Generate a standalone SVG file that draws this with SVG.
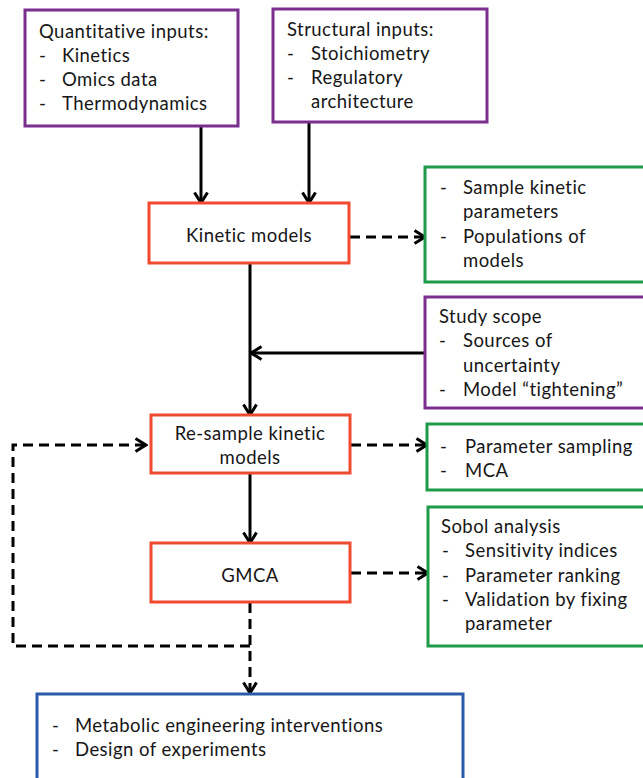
<svg xmlns="http://www.w3.org/2000/svg" width="643" height="778" viewBox="0 0 643 778">
  <style>
    .box { fill: #ffffff; stroke-width: 3; }
    .purple { stroke: #7A2E8E; }
    .red { stroke: #F04A30; }
    .green { stroke: #1E9A48; }
    .blue { stroke: #2B5BA8; }
    text { font-family: Lato, "Open Sans", "Liberation Sans", sans-serif; font-size: 18.5px; letter-spacing: 0.45px; fill: #161616; }
    .mid { text-anchor: middle; }
    .solid { fill: none; stroke: #000; stroke-width: 3; }
    .dash { fill: none; stroke: #000; stroke-width: 3; stroke-dasharray: 10 6; }
  </style>
  <defs>
    <marker id="chev" viewBox="0 0 14 16" refX="12.5" refY="8" markerWidth="14" markerHeight="16" markerUnits="userSpaceOnUse" orient="auto">
      <path d="M2,1.5 L12.5,8 L2,14.5" fill="none" stroke="#000" stroke-width="3" stroke-dasharray="none"/>
    </marker>
  </defs>

  <g id="connectors">
    <path class="solid" d="M201,126 V203" marker-end="url(#chev)"/>
    <path class="solid" d="M309,122 V203" marker-end="url(#chev)"/>
    <path class="solid" d="M250,263 V415" marker-end="url(#chev)"/>
    <path class="solid" d="M425,353 H251" marker-end="url(#chev)"/>
    <path class="solid" d="M250,473 V543" marker-end="url(#chev)"/>
    <path class="dash" d="M350,237 H425" marker-end="url(#chev)"/>
    <path class="dash" d="M351,445 H427" marker-end="url(#chev)"/>
    <path class="dash" d="M351,573 H428" marker-end="url(#chev)"/>
    <path class="dash" d="M250,603 V693" marker-end="url(#chev)"/>
    <path class="dash" d="M250,646 H13 V445 H146" marker-end="url(#chev)"/>
  </g>

  <g id="quantitative-inputs">
    <rect class="box purple" x="25" y="10" width="213" height="116"/>
    <text x="39" y="38">Quantitative inputs:</text>
    <text x="39" y="62">-</text><text x="62" y="62">Kinetics</text>
    <text x="39" y="86">-</text><text x="62" y="86">Omics data</text>
    <text x="39" y="110">-</text><text x="62" y="110">Thermodynamics</text>
  </g>

  <g id="structural-inputs">
    <rect class="box purple" x="273" y="9" width="214" height="113"/>
    <text x="287" y="36">Structural inputs:</text>
    <text x="287" y="60">-</text><text x="311" y="60">Stoichiometry</text>
    <text x="287" y="84">-</text><text x="311" y="84">Regulatory</text>
    <text x="311" y="108">architecture</text>
  </g>

  <g id="kinetic-models">
    <rect class="box red" x="149" y="203" width="200" height="60"/>
    <text class="mid" x="249" y="242">Kinetic models</text>
  </g>

  <g id="sampling-outputs">
    <rect class="box green" x="425" y="167" width="240" height="115"/>
    <text x="440" y="194">-</text><text x="463" y="194">Sample kinetic</text>
    <text x="463" y="218">parameters</text>
    <text x="440" y="243">-</text><text x="463" y="243">Populations of</text>
    <text x="463" y="267">models</text>
  </g>

  <g id="study-scope">
    <rect class="box purple" x="425" y="297" width="240" height="111"/>
    <text x="439" y="323">Study scope</text>
    <text x="439" y="347">-</text><text x="463" y="347">Sources of</text>
    <text x="463" y="372">uncertainty</text>
    <text x="439" y="396">-</text><text x="463" y="396">Model “tightening”</text>
  </g>

  <g id="resample-models">
    <rect class="box red" x="151" y="415" width="199" height="58"/>
    <text class="mid" x="250" y="440">Re-sample kinetic</text>
    <text class="mid" x="250" y="464">models</text>
  </g>

  <g id="resample-outputs">
    <rect class="box green" x="427" y="424" width="240" height="66"/>
    <text x="440" y="453">-</text><text x="465" y="453">Parameter sampling</text>
    <text x="440" y="477">-</text><text x="465" y="477">MCA</text>
  </g>

  <g id="gmca">
    <rect class="box red" x="151" y="543" width="199" height="59"/>
    <text class="mid" x="250" y="582">GMCA</text>
  </g>

  <g id="sobol-analysis">
    <rect class="box green" x="428" y="507" width="240" height="139"/>
    <text x="441" y="533">Sobol analysis</text>
    <text x="442" y="557">-</text><text x="465" y="557">Sensitivity indices</text>
    <text x="442" y="582">-</text><text x="465" y="582">Parameter ranking</text>
    <text x="442" y="606">-</text><text x="465" y="606">Validation by fixing</text>
    <text x="465" y="630">parameter</text>
  </g>

  <g id="applications">
    <rect class="box blue" x="37" y="694" width="426" height="100"/>
    <text x="52" y="732">-</text><text x="75" y="732">Metabolic engineering interventions</text>
    <text x="52" y="756">-</text><text x="75" y="756">Design of experiments</text>
  </g>
</svg>
